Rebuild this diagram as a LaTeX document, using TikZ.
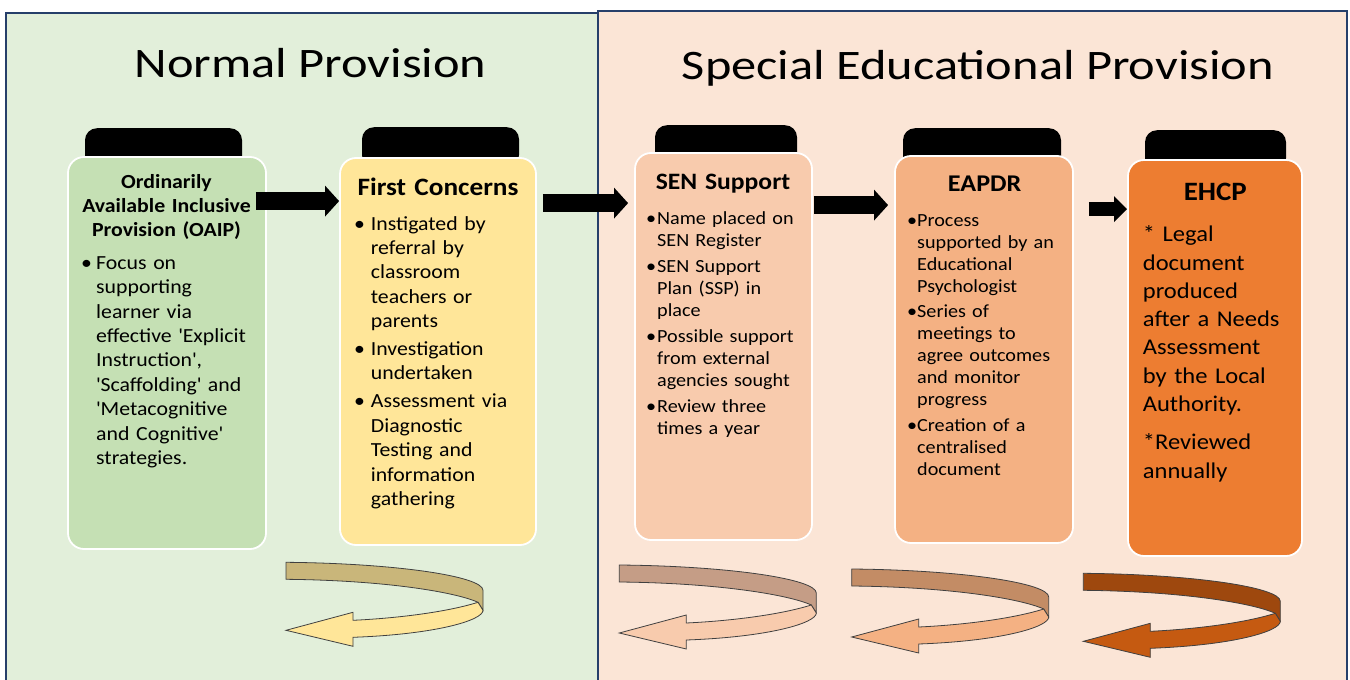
\documentclass[tikz,border=0pt]{standalone}
\usepackage{fontspec}
\setmainfont{Carlito}[FakeStretch=1.09]
\newfontfamily\titlefont{Carlito}[FakeStretch=1.2]
\usepackage{tikz}
\usetikzlibrary{arrows.meta}
\definecolor{normalbg}{HTML}{E2EFDA}
\definecolor{specialbg}{HTML}{FBE5D6}
\definecolor{panelline}{HTML}{263F6A}
\definecolor{oaipfill}{HTML}{C5E0B4}
\definecolor{firstfill}{HTML}{FFE699}
\definecolor{senfill}{HTML}{F8CBAD}
\definecolor{eapdrfill}{HTML}{F4B183}
\definecolor{ehcpfill}{HTML}{ED7D31}
\definecolor{firstback}{HTML}{C9B67A}
\definecolor{senback}{HTML}{C59D86}
\definecolor{eapdrback}{HTML}{C38C65}
\definecolor{ehcpback}{HTML}{9E480E}
\definecolor{ehcpfront}{HTML}{C55A11}
\definecolor{arrowline}{HTML}{404040}

\newlength\itemind
\newcommand{\pitem}[1]{{\leftskip=\itemind\noindent\hspace*{-\itemind}\makebox[\itemind][l]{\textbullet}#1\par}}
\newcommand{\q}{\textquotesingle}
% ribbon arrow turning back under each stage
\newcommand{\turnarrow}[4]{%
  \begin{scope}[shift={(#1,#2)}, draw=arrowline, line width=0.8pt]
    \filldraw[fill=#3] (0,0) .. controls (110,1) and (197,14) .. (197,28) -- (197,48) -- (192,40)
      .. controls (170,30) and (100,18) .. (0,17) -- cycle;
    \filldraw[fill=#4] (192,40) .. controls (160,50) and (110,56) .. (67,58) -- (67,50) -- (0,68)
      -- (67,84) -- (67,75) .. controls (150,72) and (197,58) .. (197,48) -- cycle;
  \end{scope}}

\begin{document}
\begin{tikzpicture}[
    x=1pt, y=-1pt,
    panel/.style={draw=panelline, line width=1.8pt, anchor=north west, inner sep=0pt},
    tab/.style={fill=black, rounded corners=12pt, minimum height=40pt, anchor=north, inner sep=0pt},
    stage/.style={draw=white, line width=1.8pt, rounded corners=16pt, inner sep=0pt},
    head/.style={anchor=base, inner sep=0pt, align=center, text width=190pt},
    body/.style={anchor=base west, inner sep=0pt, align=left, text width=180pt},
    flow/.style={line width=18pt, -{Triangle[length=14pt,width=30pt]}}
]
\useasboundingbox (0,0) rectangle (1350,680);
\clip (0,0) rectangle (1350,680);

% Panels
\node[panel, fill=normalbg, minimum width=592pt, minimum height=690pt] (normal) at (5,12) {};
\node[panel, fill=specialbg, minimum width=749pt, minimum height=692pt] (special) at (597,10) {};
\node[font=\titlefont\fontsize{42}{50}\selectfont, anchor=base] (normaltitle) at (310.5,77) {Normal Provision};
\node[font=\titlefont\fontsize{42}{50}\selectfont, anchor=base] (specialtitle) at (978,79) {Special Educational Provision};

% Stage tabs
\node[tab, minimum width=157pt] (oaiptab) at (163.5,128) {};
\node[tab, minimum width=157pt] (firsttab) at (440.5,127) {};
\node[tab, minimum width=142pt] (sentab) at (726,125) {};
\node[tab, minimum width=158pt] (eapdrtab) at (982,128) {};
\node[tab, minimum width=141pt] (ehcptab) at (1215.5,130) {};

% Stage boxes
\node[stage, fill=oaipfill, minimum width=198pt, minimum height=392pt] (oaip) at (167,353) {};
\node[stage, fill=firstfill, minimum width=196pt, minimum height=387pt] (first) at (438,351.5) {};
\node[stage, fill=senfill, minimum width=177pt, minimum height=387pt] (sen) at (723.5,346.5) {};
\node[stage, fill=eapdrfill, minimum width=178pt, minimum height=387pt] (eapdr) at (984,349.5) {};
\node[stage, fill=ehcpfill, minimum width=174pt, minimum height=396pt] (ehcp) at (1215,358) {};

% Stage headings
\node[head, font=\bfseries\fontsize{20}{24}\selectfont] (oaiphead) at (166.5,188.3) {Ordinarily\\Available Inclusive\\Provision (OAIP)};
\node[head, font=\bfseries\fontsize{25}{30}\selectfont] (firsthead) at (438,195) {First Concerns};
\node[head, font=\bfseries\fontsize{23.5}{28}\selectfont] (senhead) at (723,189.3) {SEN Support};
\node[head, font=\bfseries\fontsize{24}{29}\selectfont] (eapdrhead) at (984.7,191.7) {EAPDR};
\node[head, font=\bfseries\fontsize{26.5}{32}\selectfont] (ehcphead) at (1215.3,200) {EHCP};

% Stage contents
\node[body, font=\fontsize{20}{24.4}\selectfont] (oaiptext) at (81,269.3) {\setlength\itemind{15pt}%
  \pitem{Focus on\\supporting\\learner via\\effective \q Explicit\\Instruction\q,\\\q Scaffolding\q{} and\\\q Metacognitive\\and Cognitive\q\\strategies.}};
\node[body, font=\fontsize{20}{24.4}\selectfont] (firsttext) at (354,230) {\setlength\itemind{16.7pt}\setlength\parskip{3.5pt}%
  \pitem{Instigated by\\referral by\\classroom\\teachers or\\parents}
  \pitem{Investigation\\undertaken}
  \pitem{Assessment via\\Diagnostic\\Testing and\\information\\gathering}};
\node[body, text width=170pt, font=\fontsize{18.5}{22}\selectfont] (sentext) at (646,224) {\setlength\itemind{11pt}\setlength\parskip{4pt}%
  \pitem{Name placed on\\SEN Register}
  \pitem{SEN Support\\Plan (SSP) in\\place}
  \pitem{Possible support\\from external\\agencies sought}
  \pitem{Review three\\times a year}};
\node[body, text width=170pt, font=\fontsize{18.5}{22}\selectfont] (eapdrtext) at (907,226) {\setlength\itemind{10pt}\setlength\parskip{3.8pt}%
  \pitem{Process\\supported by an\\Educational\\Psychologist}
  \pitem{Series of\\meetings to\\agree outcomes\\and monitor\\progress}
  \pitem{Creation of a\\centralised\\document}};
\node[body, text width=165pt, font=\fontsize{22.5}{28.3}\selectfont] (ehcptext) at (1142.7,241.7) {\setlength\parskip{10pt}%
  * Legal\\document\\produced\\after a Needs\\Assessment\\by the Local\\Authority.\par
  *Reviewed\\annually};

% Flow between stages
\draw[flow] ([xshift=-11pt,yshift=-45pt]oaip.north east) -- ([yshift=-44pt]first.north west);
\draw[flow] ([xshift=6pt,yshift=-46pt]first.north east) -- ([xshift=-6pt,yshift=-51pt]sen.north west);
\draw[flow] ([xshift=1pt,yshift=-53pt]sen.north east) -- ([xshift=-6pt,yshift=-50pt]eapdr.north west);
\draw[flow, line width=14pt, -{Triangle[length=13pt,width=25pt]}] ([xshift=15pt,yshift=-54pt]eapdr.north east) -- ([yshift=-50pt]ehcp.north west);

% Return arrows
\turnarrow{286}{562.3}{firstback}{firstfill}
\turnarrow{619.3}{565}{senback}{senfill}
\turnarrow{851.7}{569}{eapdrback}{eapdrfill}
\turnarrow{1083.3}{573.3}{ehcpback}{ehcpfront}

\end{tikzpicture}
\end{document}
